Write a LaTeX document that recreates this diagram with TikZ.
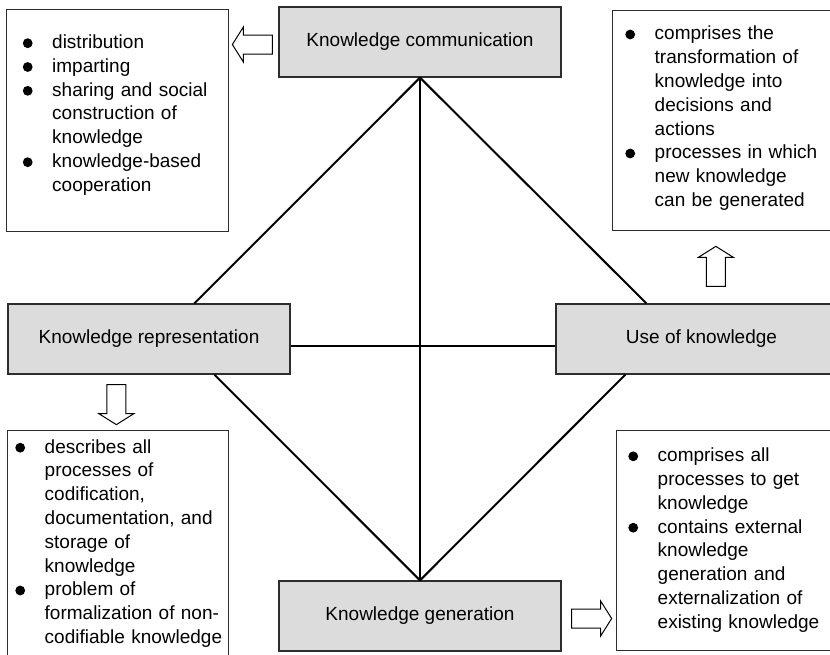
\documentclass[tikz,border=0pt]{standalone}
\usepackage{fontspec}
\setmainfont{Liberation Sans}
\usetikzlibrary{calc}
\definecolor{boxgray}{RGB}{220,220,220}
\definecolor{edgegray}{RGB}{45,45,45}
\newcommand\kbul{\makebox[0pt][c]{\tikz[baseline=0pt]\fill[black] (0pt,5.3pt) circle (4.9pt);}}
\newcommand\bitem[1]{\par\noindent\hangindent=24.5pt\hangafter=1\kbul\hspace*{24.5pt}#1}
\begin{document}
\begin{tikzpicture}[x=1pt,y=-1pt,
  every node/.style={font=\fontsize{19}{23.8}\selectfont},
  stage/.style={draw=edgegray,line width=1.3pt,fill=boxgray,minimum width=282pt,minimum height=70pt,inner sep=0pt},
  infobox/.style={draw=edgegray,line width=1.3pt,inner sep=0pt,anchor=north west},
  infotext/.style={anchor=north west,inner sep=0pt,text width=205pt,align=left},
  link/.style={line width=2pt,black},
  blockarrow/.pic={\draw[line width=1pt,black,fill=white,line join=miter] (0,-9.5) -- (29,-9.5) -- (29,-17.5) -- (40,0) -- (29,17.5) -- (29,9.5) -- (0,9.5) -- cycle;}
]
\useasboundingbox (0,0) rectangle (830,654);
\clip (0,0) rectangle (830,654);

% stage boxes
\node[stage] (kc) at (420,42) {Knowledge communication};
\node[stage] (kr) at (149,339) {Knowledge representation};
\node[stage] (uk) at (697,339) {\hspace*{9pt}Use of knowledge};
\node[stage] (kg) at (420,616) {Knowledge generation};

% info boxes
\node[infobox,minimum width=222pt,minimum height=222pt] (tlb) at (6,9) {};
\node[infobox,minimum width=230pt,minimum height=220pt] (trb) at (612,10) {};
\node[infobox,minimum width=221pt,minimum height=240pt] (blb) at (7,430) {};
\node[infobox,minimum width=230pt,minimum height=220pt] (brb) at (616,430) {};

\node[infotext] (tlt) at ($(tlb.north west)+(21.5,15.5)$) {\bitem{distribution}\bitem{imparting}\bitem{sharing and social\newline construction of\newline knowledge}\bitem{knowledge-based\newline cooperation}\par};
\node[infotext] (trt) at ($(trb.north west)+(18,5.8)$) {\bitem{comprises the\newline transformation of\newline knowledge into\newline decisions and\newline actions}\bitem{processes in which\newline new knowledge\newline can be generated}\par};
\node[infotext] (blt) at ($(blb.north west)+(13,-1)$) {\bitem{describes all\newline processes of\newline codification,\newline documentation, and\newline storage of\newline knowledge}\bitem{problem of\newline formalization of non-\newline codifiable knowledge}\par};
\node[infotext] (brt) at ($(brb.north west)+(17,7.6)$) {\bitem{comprises all\newline processes to get\newline knowledge}\bitem{contains external\newline knowledge\newline generation and\newline externalization of\newline existing knowledge}\par};

% links
\draw[link] (kc.south) -- ($(kr.north west)+(187,0)$);
\draw[link] (kc.south) -- ($(uk.north west)+(91,0)$);
\draw[link] (kc.south) -- (kg.north);
\draw[link] ($(kr.east)+(0,7)$) -- ($(uk.west)+(0,7)$);
\draw[link] ($(kr.south west)+(207,0)$) -- (kg.north);
\draw[link] ($(uk.south west)+(70,0)$) -- (kg.north);

% block arrows
\pic[rotate=180] at ($(kc.west)+(-6,2.5)$) {blockarrow};
\pic[rotate=90] at ($(uk.north west)+(160.5,-17)$) {blockarrow};
\pic[rotate=-90] at ($(kr.south west)+(109,10)$) {blockarrow};
\pic at ($(kg.east)+(10,2.5)$) {blockarrow};
\end{tikzpicture}
\end{document}
